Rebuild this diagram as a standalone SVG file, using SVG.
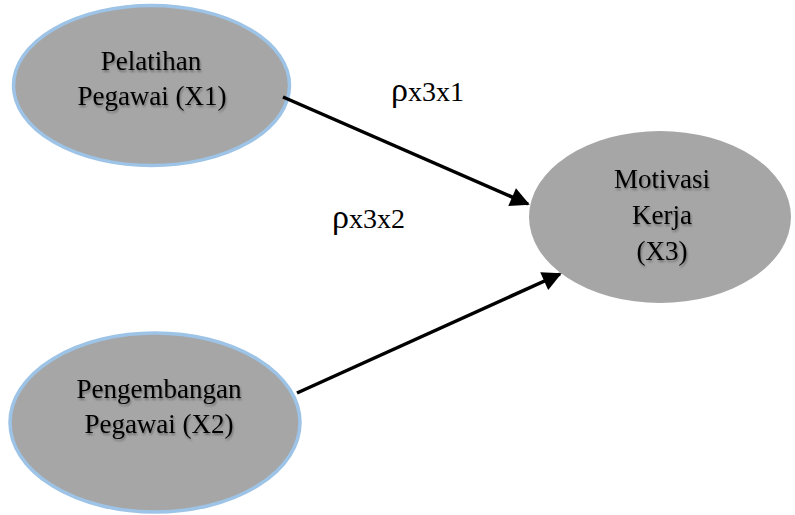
<svg xmlns="http://www.w3.org/2000/svg" width="795" height="515" viewBox="0 0 795 515">
<style>
.node{fill:#A6A6A6}
.blue{stroke:#9DC3E6;stroke-width:3.5}
.lbl{font-family:"Liberation Serif","Times New Roman",serif;font-size:27px;fill:#000;text-anchor:middle}
.conn{stroke:#000;stroke-width:3.5;fill:none}
.coef,.coef tspan{font-family:"Liberation Serif","Times New Roman",serif;font-size:28px;fill:#000}
.coef tspan.rho{font-size:34px}
</style>
<defs>
<marker id="ah" viewBox="0 0 10 10" refX="9" refY="5" markerWidth="6" markerHeight="5.5" markerUnits="strokeWidth" orient="auto">
<path d="M0,0 L10,5 L0,10 Z" fill="#000"/>
</marker>
<filter id="sh" x="-10%" y="-10%" width="120%" height="130%">
<feGaussianBlur in="SourceAlpha" stdDeviation="1.2"/>
<feOffset dx="1" dy="1.5" result="b"/>
<feComponentTransfer><feFuncA type="linear" slope="0.35"/></feComponentTransfer>
<feMerge><feMergeNode/><feMergeNode in="SourceGraphic"/></feMerge>
</filter>
</defs>
<rect width="795" height="515" fill="#fff"/>
<g id="x1">
<ellipse class="node blue" cx="151.5" cy="85.5" rx="138" ry="80"/>
<g filter="url(#sh)">
<text class="lbl" x="151" y="70">Pelatihan</text>
<text class="lbl" x="152" y="105">Pegawai (X1)</text>
</g>
</g>
<g id="x2">
<ellipse class="node blue" cx="155" cy="422.5" rx="145" ry="89.5"/>
<g filter="url(#sh)">
<text class="lbl" x="159" y="398">Pengembangan</text>
<text class="lbl" x="159" y="433">Pegawai (X2)</text>
</g>
</g>
<g id="x3">
<ellipse class="node" cx="660" cy="217" rx="131" ry="86"/>
<g filter="url(#sh)">
<text class="lbl" x="662" y="188">Motivasi</text>
<text class="lbl" x="662" y="224">Kerja</text>
<text class="lbl" x="662" y="260">(X3)</text>
</g>
</g>
<g id="connectors">
<line class="conn" x1="283" y1="97" x2="528" y2="204" marker-end="url(#ah)"/>
<line class="conn" x1="297" y1="393" x2="560" y2="274" marker-end="url(#ah)"/>
<text class="coef" x="391" y="101"><tspan class="rho">ρ</tspan><tspan>x3x1</tspan></text>
<text class="coef" x="332" y="228"><tspan class="rho">ρ</tspan><tspan>x3x2</tspan></text>
</g>
</svg>
